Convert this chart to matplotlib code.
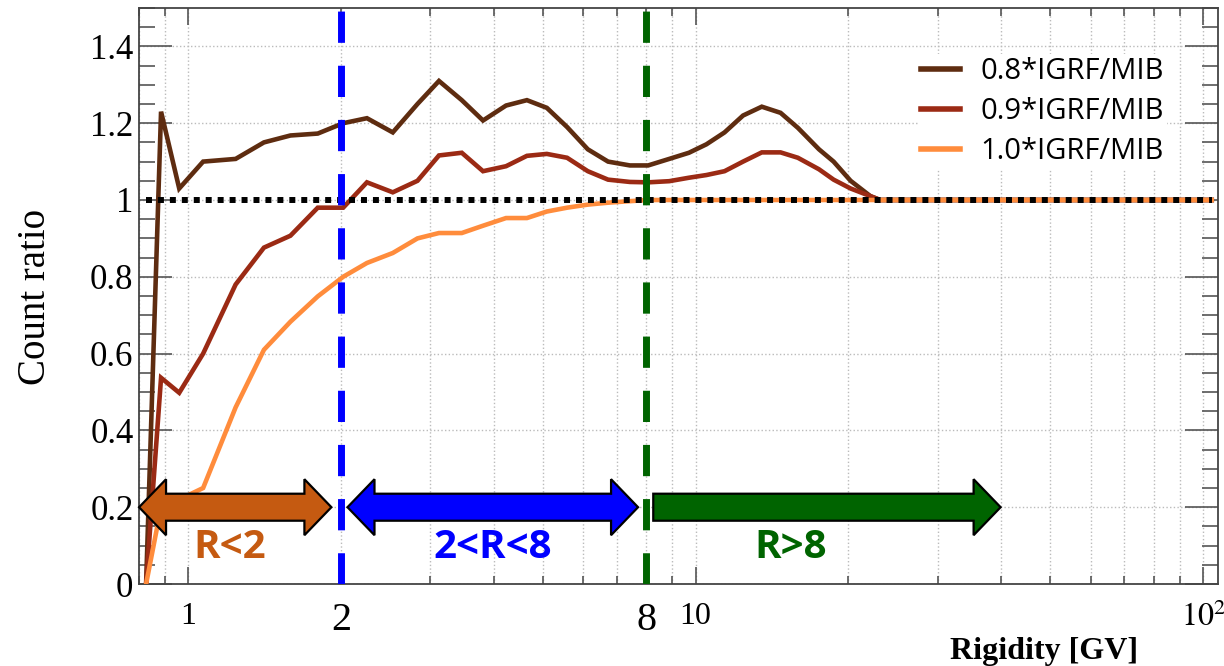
import matplotlib
matplotlib.use("Agg")
import matplotlib.pyplot as plt
from matplotlib.patches import Polygon
from matplotlib.transforms import IdentityTransform, blended_transform_factory
from matplotlib.ticker import LogLocator, FixedLocator, MultipleLocator, NullFormatter

# rigidity bins [GV] (shared by the three curves)
rigidity = [0.826, 0.884, 0.96, 1.07, 1.24, 1.41, 1.59, 1.80, 2.02, 2.25, 2.53, 2.83,
            3.12, 3.46, 3.81, 4.23, 4.65, 5.09, 5.58, 6.13, 6.72, 7.42, 8.06, 8.87,
            9.7, 10.5, 11.4, 12.4, 13.5, 14.7, 15.9, 17.5, 18.7, 20.2, 22.1, 23.1, 104]

ratio_08 = [0.0, 1.23, 1.03, 1.10, 1.107, 1.15, 1.168, 1.173, 1.20, 1.213, 1.176, 1.25,
            1.31, 1.26, 1.207, 1.246, 1.26, 1.24, 1.19, 1.132, 1.10, 1.09, 1.09, 1.107,
            1.123, 1.145, 1.176, 1.22, 1.243, 1.227, 1.188, 1.132, 1.10, 1.05, 1.01, 1.0, 1.0]

ratio_09 = [0.0, 0.537, 0.498, 0.60, 0.78, 0.876, 0.907, 0.98, 0.98, 1.046, 1.02, 1.05,
            1.116, 1.123, 1.075, 1.088, 1.115, 1.12, 1.11, 1.075, 1.053, 1.047, 1.046, 1.049,
            1.058, 1.065, 1.075, 1.10, 1.124, 1.124, 1.11, 1.08, 1.053, 1.03, 1.01, 1.0, 1.0]

ratio_10 = [0.0, 0.20, 0.22, 0.25, 0.46, 0.61, 0.683, 0.749, 0.80, 0.836, 0.862, 0.90,
            0.914, 0.914, 0.933, 0.953, 0.953, 0.97, 0.98, 0.988, 0.993, 0.997, 1.0, 1.0,
            1.0, 1.0, 1.0, 1.0, 1.0, 1.0, 1.0, 1.0, 1.0, 1.0, 1.0, 1.0, 1.0]

series_labels = ["0.8*IGRF/MIB", "0.9*IGRF/MIB", "1.0*IGRF/MIB"]
series_colors = ["#5E2C10", "#9B2A14", "#FF8C3C"]

y_ticks = [0, 0.2, 0.4, 0.6, 0.8, 1.0, 1.2, 1.4]
y_ticklabels = ["0", "0.2", "0.4", "0.6", "0.8", "1", "1.2", "1.4"]
x_ticks = [1, 10, 100]
x_ticklabels = ["1", "10", r"$10^2$"]

# rigidity ranges marked with arrows
range_start = [0.80, 2.06, 8.25]
range_end = [1.915, 7.70, 39.9]
range_text = ["R<2", "2<R<8", "R>8"]
range_text_x = [1.205, 3.98, 15.4]
range_colors = ["#C55A11", "#0000FF", "#006400"]
range_double = [True, True, False]
cut_values = [2, 8]

plt.rcParams["font.family"] = ["Liberation Serif", "DejaVu Serif"]
plt.rcParams["mathtext.fontset"] = "stix"

fig = plt.figure(figsize=(12.24, 6.66), dpi=100)
ax = fig.add_subplot(111)
fig.subplots_adjust(left=0.1136, right=0.9951, top=0.988, bottom=0.1231)

ax.set_xscale("log")
ax.set_xlim(0.8, 107)
ax.set_ylim(0, 1.5)

for vals, lab, col in zip([ratio_08, ratio_09, ratio_10], series_labels, series_colors):
    ax.plot(rigidity, vals, color=col, lw=3.3, label=lab, zorder=3, solid_joinstyle="miter")

ax.plot([rigidity[0], rigidity[-1]], [1, 1], color="black", lw=4.3,
        linestyle=(0, (1, 1)), dash_capstyle="butt", zorder=4)

for xv, col in zip(cut_values, ["#0000FF", "#006400"]):
    ax.axvline(xv, color=col, lw=5, linestyle=(0, (4.5, 3.3)), zorder=5)

# ticks / grid in ROOT style
ax.xaxis.set_major_locator(FixedLocator(x_ticks))
ax.xaxis.set_minor_locator(LogLocator(base=10, subs=range(2, 10)))
ax.xaxis.set_minor_formatter(NullFormatter())
ax.set_xticklabels(x_ticklabels)
ax.yaxis.set_major_locator(FixedLocator(y_ticks))
ax.yaxis.set_minor_locator(MultipleLocator(0.05))
ax.set_yticklabels(y_ticklabels)

ax.tick_params(axis="both", which="both", direction="in", top=True, right=True,
               color="#555555", width=1.2)
ax.tick_params(axis="y", which="major", length=23.5, labelsize=25, pad=4)
ax.tick_params(axis="y", which="minor", length=11.5)
ax.tick_params(axis="x", which="major", length=12.5, labelsize=23, pad=13)
ax.tick_params(axis="x", which="minor", length=6)
for sp in ax.spines.values():
    sp.set_color("#444444")
    sp.set_linewidth(1.3)

ax.grid(True, axis="x", which="both", color="#bbbbbb", linestyle=":", lw=1)
ax.grid(True, axis="y", which="major", color="#bbbbbb", linestyle=":", lw=1)
ax.set_axisbelow(True)

ax.set_ylabel("Count ratio", fontsize=28, va="center")
ax.yaxis.set_label_coords(-0.0964, 0.498)
ax.set_xlabel("Rigidity [GV]", fontsize=23, fontweight="bold", ha="right", va="center")
ax.xaxis.set_label_coords(0.926, -0.118)

trans = blended_transform_factory(ax.transData, ax.transAxes)
for xv in cut_values:
    ax.text(xv, -0.063, str(xv), transform=trans, ha="center", va="center", fontsize=29)

leg = ax.legend(loc="upper left", bbox_to_anchor=(0.722, 0.92), frameon=True,
                prop={"family": "Open Sans", "size": 21}, handlelength=1.35,
                handletextpad=0.7, labelspacing=0.38, borderpad=0.1, borderaxespad=0)
leg.get_frame().set_facecolor("white")
leg.get_frame().set_edgecolor("none")
leg.get_frame().set_alpha(1)
leg.set_zorder(7)
for line in leg.get_lines():
    line.set_linewidth(4)


def block_arrow(x0, x1, y, color, both):
    xa, ya = ax.transData.transform((x0, y))
    xb, _ = ax.transData.transform((x1, y))
    hs, hw, hl = 13.5, 28, 27
    pts = []
    if both:
        pts += [(xa, ya), (xa + hl, ya + hw), (xa + hl, ya + hs)]
    else:
        pts += [(xa, ya + hs)]
    pts += [(xb - hl, ya + hs), (xb - hl, ya + hw), (xb, ya), (xb - hl, ya - hw), (xb - hl, ya - hs)]
    if both:
        pts += [(xa + hl, ya - hs), (xa + hl, ya - hw)]
    else:
        pts += [(xa, ya - hs)]
    ax.add_patch(Polygon(pts, closed=True, transform=IdentityTransform(), facecolor=color,
                         edgecolor="black", lw=1.6, zorder=6, clip_on=False))


for x0, x1, txt, tx, col, both in zip(range_start, range_end, range_text, range_text_x,
                                       range_colors, range_double):
    block_arrow(x0, x1, 0.2, col, both)
    ax.text(tx, 0.094, txt, color=col, fontsize=29, fontweight="bold",
            family="Open Sans", ha="center", va="center", zorder=6)

fig.savefig("out.png", dpi=100)
